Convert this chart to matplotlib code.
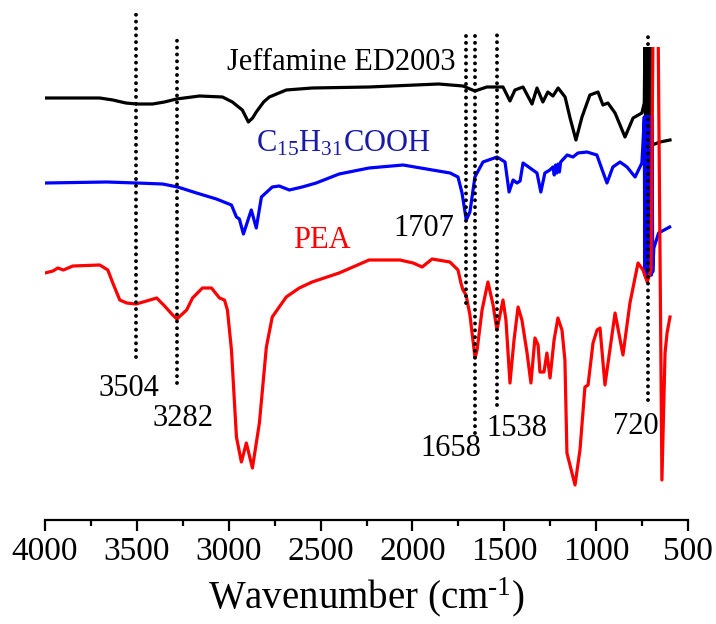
import matplotlib
matplotlib.use("Agg")
import matplotlib.pyplot as plt
from matplotlib.ticker import MultipleLocator

plt.rcParams['font.family'] = ['Liberation Serif', 'DejaVu Serif']
plt.rcParams['mathtext.fontset'] = 'custom'
plt.rcParams['mathtext.rm'] = 'Liberation Serif'
plt.rcParams['mathtext.it'] = 'Liberation Serif:italic'

# FTIR spectra, intensity in arbitrary units (stacked, offset)
jeff_wn = [4000, 3850, 3702, 3631, 3560, 3501, 3414, 3350, 3284, 3159, 3034, 2980, 2926,
           2893, 2870, 2850, 2810, 2779, 2687, 2546, 2236, 1857, 1725, 1660, 1595, 1507,
           1469, 1442, 1398, 1349, 1322, 1290, 1263, 1235, 1207, 1169, 1142, 1110, 1077,
           1034, 990, 963, 936, 897, 843, 799, 751, 738,
           734, 731, 728, 725, 722, 719, 716, 713, 710, 707, 704, 701,
           696, 652, 598]
jeff_t = [422, 422, 422, 420, 417, 416, 416, 418, 421, 424, 423, 418, 410,
          398, 402, 408, 418, 423, 430, 432, 433, 436, 434, 429, 433, 433,
          419, 430, 433, 416, 432, 418, 428, 424, 432, 423, 402, 380, 403,
          425, 428, 415, 417, 407, 383, 402, 407, 417,
          490, 380, 490, 380, 490, 380, 490, 380, 490, 380, 490, 378,
          375, 378, 380]

acid_wn = [4000, 3664, 3501, 3360, 3278, 3175, 3067, 2985, 2958, 2942, 2920, 2877, 2850,
           2822, 2763, 2725, 2670, 2600, 2524, 2399, 2236, 2051, 1795, 1752, 1730, 1707,
           1687, 1660, 1616, 1539, 1496, 1474, 1452, 1431, 1414, 1398, 1360, 1322, 1301,
           1279, 1252, 1235, 1228, 1221, 1214, 1207, 1200, 1193, 1158, 1126, 1099, 1050,
           996, 963, 941, 909, 870, 832, 788, 751, 745,
           738, 735, 732, 729, 726, 723, 720, 717, 714, 711, 708, 705, 702, 699, 696,
           692, 686, 660, 600]
acid_t = [337, 338, 337, 336, 333, 327, 321, 315, 303, 301, 286, 310, 292,
          323, 333, 334, 330, 333, 337, 346, 352, 355, 347, 343, 327, 300,
          308, 343, 358, 363, 358, 328, 340, 337, 339, 357, 352, 347, 328,
          347, 350, 353, 345, 355, 347, 356, 348, 358, 365, 363, 367, 368,
          365, 348, 337, 353, 358, 353, 343, 357, 377,
          403, 245, 403, 245, 403, 245, 403, 245, 403, 245, 403, 245, 403, 245, 403,
          248, 272, 287, 293]

pea_wn = [4000, 3957, 3930, 3900, 3848, 3702, 3658, 3631, 3593, 3555, 3504, 3447, 3392,
          3349, 3305, 3282, 3229, 3197, 3143, 3094, 3050, 3023, 3007, 2985, 2958, 2931,
          2904, 2871, 2833, 2795, 2763, 2687, 2616, 2546, 2399, 2236, 2068, 1996, 1947,
          1893, 1796, 1752, 1736, 1725, 1708, 1687, 1659, 1648, 1621, 1589, 1561, 1540,
          1507, 1491, 1469, 1447, 1425, 1404, 1376, 1355, 1333, 1316, 1306, 1284, 1268,
          1251, 1229, 1208, 1186, 1170, 1159, 1115, 1088, 1061, 1044, 1017, 995, 979,
          952, 897, 854, 816, 772, 745, 722, 701, 690, 663, 642, 625, 614, 598]
pea_t = [247, 249, 252, 250, 254, 255, 250, 237, 220, 217, 216, 219, 222,
         214, 205, 201, 210, 222, 232, 232, 222, 220, 210, 170, 83, 58,
         77, 52, 97, 173, 203, 223, 232, 238, 247, 260, 260, 257, 253,
         261, 258, 250, 237, 230, 225, 205, 162, 170, 210, 238, 215, 190,
         220, 200, 137, 180, 213, 200, 167, 137, 182, 175, 148, 148, 167,
         142, 180, 202, 190, 160, 67, 35, 70, 133, 135, 177, 190, 192,
         135, 207, 165, 217, 257, 250, 238, 250, 500, 500, 40, 167, 187, 203]

peaks = [3504, 3282, 1707, 1658, 1538, 720]
peak_labels = ['3504', '3282', '1707', '1658', '1538', '720']

# layout of the marker lines / labels (axis units)
line_top = [508, 480, 488, 485, 485, 483]
line_bot = [163, 137, 217, 87, 115, 120]
label_xy = [(3543, 131), (3249, 101), (1937, 292), (1790, 71), (1431, 91), (783, 94)]

fig = plt.figure(figsize=(7.16, 6.24), dpi=100)
ax = fig.add_axes([45 / 716, 1 - 520 / 624, 643 / 716, 473 / 624])

lw = 2.3
ax.plot(jeff_wn, jeff_t, color='black', lw=lw, solid_joinstyle='round', zorder=2)
ax.plot(acid_wn, acid_t, color='#0000ff', lw=lw, solid_joinstyle='round', zorder=3)
ax.plot(pea_wn, pea_t, color='#ff0000', lw=lw, solid_joinstyle='round', zorder=4)

for wn, top, bot, (tx, ty), lab in zip(peaks, line_top, line_bot, label_xy, peak_labels):
    ax.plot([wn, wn], [bot, top], color='black', lw=2.8, linestyle=(0, (0.01, 1.75)),
            dash_capstyle='round', clip_on=False, zorder=5)
    ax.text(tx, ty, lab, fontsize=22, ha='center', va='center', color='black')

ax.text(2389, 458, 'Jeffamine ED2003', fontsize=22, ha='center', va='center', color='black')
ax.text(2378, 376, r'C$_{15}$H$_{31}$COOH', fontsize=22, ha='center', va='center', color='#1a1aa8')
ax.text(2492, 280, 'PEA', fontsize=22, ha='center', va='center', color='#ff0000')

ax.set_xlim(4000, 500)
ax.set_ylim(0, 473)
for s in ['left', 'right', 'top']:
    ax.spines[s].set_visible(False)
ax.spines['bottom'].set_linewidth(1.6)
ax.set_yticks([])
ax.xaxis.set_major_locator(MultipleLocator(500))
ax.xaxis.set_minor_locator(MultipleLocator(250))
ax.tick_params(axis='x', which='major', direction='out', length=8, width=1.6,
               labelsize=24, pad=4)
ax.tick_params(axis='x', which='minor', direction='out', length=4, width=1.6)
ax.set_xlabel(r'Wavenumber (cm$^{\text{-1}}$)', fontsize=28, labelpad=6)

fig.savefig('out.png', dpi=100)
